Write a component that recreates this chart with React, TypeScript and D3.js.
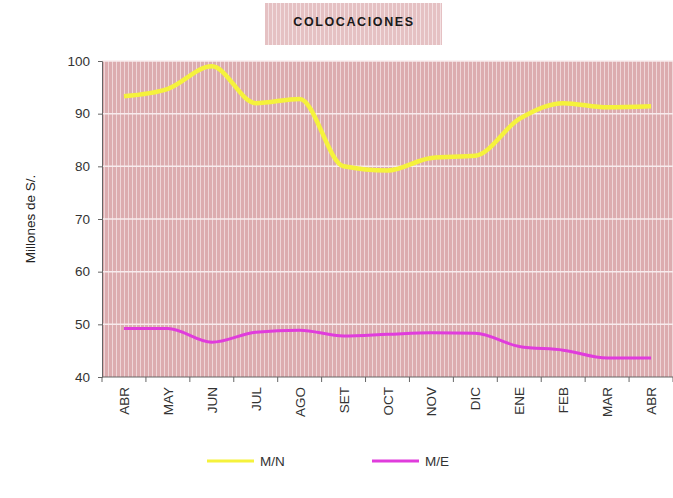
import React, { useEffect, useRef } from 'react'
import * as d3 from 'd3';

const WIDTH = 673;
const HEIGHT = 498;

const months = ['ABR', 'MAY', 'JUN', 'JUL', 'AGO', 'SET', 'OCT', 'NOV', 'DIC', 'ENE', 'FEB', 'MAR', 'ABR'];
const mnValues = [93.3, 94.7, 99.0, 92.0, 92.8, 80.0, 79.2, 81.6, 82.0, 89.0, 92.0, 91.2, 91.4];
const meValues = [49.2, 49.2, 46.6, 48.5, 48.9, 47.8, 48.1, 48.4, 48.3, 45.8, 45.1, 43.6, 43.6];
const yTicks = [40, 50, 60, 70, 80, 90, 100];

const series = [
  { name: 'M/N', values: mnValues, color: '#f5f23c', width: 4.5 },
  { name: 'M/E', values: meValues, color: '#e03cdc', width: 3 },
];

const margin = { top: 61, right: 0, bottom: 121, left: 102 };

const App = () => {
  const svgRef = useRef<SVGSVGElement>(null);

  useEffect(() => {
    const svg = d3.select(svgRef.current);
    svg.selectAll("*").remove();

    const font = "Arial, 'Liberation Sans', sans-serif";

    // striped fill like the old spreadsheet pattern
    const defs = svg.append("defs");
    const pat = defs.append("pattern")
      .attr("id", "stripes")
      .attr("patternUnits", "userSpaceOnUse")
      .attr("width", 4).attr("height", 4);
    pat.append("rect").attr("width", 4).attr("height", 4).attr("fill", "#dcacaf");
    pat.append("rect").attr("x", 0).attr("width", 1).attr("height", 4).attr("fill", "#efd6d8");

    const x = d3.scalePoint<number>()
      .domain(d3.range(months.length))
      .range([margin.left, WIDTH - margin.right])
      .padding(0.5);
    const y = d3.scaleLinear()
      .domain([40, 100])
      .range([HEIGHT - margin.bottom, margin.top]);

    // Title box
    svg.append("rect")
      .attr("x", 265).attr("y", 3).attr("width", 177).attr("height", 42)
      .attr("fill", "url(#stripes)").attr("opacity", 0.75);
    svg.append("text")
      .attr("x", 354).attr("y", 26)
      .attr("text-anchor", "middle")
      .style("font", `900 12.5px ${font}`)
      .style("letter-spacing", "1.6px")
      .attr("fill", "#1a1a1a")
      .text("COLOCACIONES");

    // Plot background
    svg.append("rect")
      .attr("x", margin.left).attr("y", margin.top)
      .attr("width", WIDTH - margin.left - margin.right)
      .attr("height", y(40) - y(100))
      .attr("fill", "url(#stripes)");

    // Horizontal gridlines
    svg.append("g").selectAll("line")
      .data(yTicks.slice(1))
      .join("line")
        .attr("x1", margin.left).attr("x2", WIDTH - margin.right)
        .attr("y1", d => y(d)).attr("y2", d => y(d))
        .attr("stroke", "#f8ecee").attr("stroke-width", 1.5);

    // Y axis
    const yAxis = svg.append("g")
      .attr("transform", `translate(${margin.left},0)`)
      .call(d3.axisLeft(y).tickValues(yTicks).tickSize(4).tickPadding(8));
    yAxis.select(".domain").attr("stroke", "#666");
    yAxis.selectAll(".tick line").attr("stroke", "#666");
    yAxis.selectAll("text").style("font", `13.5px ${font}`).attr("fill", "#333");

    // X axis
    const step = x.step();
    const xAxis = svg.append("g")
      .attr("transform", `translate(0,${y(40)})`);
    xAxis.append("line")
      .attr("x1", margin.left).attr("x2", WIDTH - margin.right)
      .attr("stroke", "#666");
    xAxis.selectAll("line.tk")
      .data(d3.range(months.length + 1))
      .join("line")
        .attr("class", "tk")
        .attr("x1", i => margin.left + i * step).attr("x2", i => margin.left + i * step)
        .attr("y1", 0).attr("y2", 5)
        .attr("stroke", "#666");
    xAxis.selectAll("text")
      .data(months)
      .join("text")
        .attr("transform", (d, i) => `translate(${x(i)! + 5},10) rotate(-90)`)
        .attr("text-anchor", "end")
        .style("font", `13.5px ${font}`)
        .attr("fill", "#333")
        .text(d => d);

    // Y label
    svg.append("text")
      .attr("transform", `translate(35,${(y(40) + y(100)) / 2}) rotate(-90)`)
      .attr("text-anchor", "middle")
      .style("font", `13.5px ${font}`)
      .attr("fill", "#222")
      .text("Millones de S/.");

    // Lines
    const line = d3.line<number>()
      .x((d, i) => x(i)!)
      .y(d => y(d))
      .curve(d3.curveMonotoneX);
    svg.append("g").selectAll("path")
      .data(series)
      .join("path")
        .attr("d", d => line(d.values))
        .attr("fill", "none")
        .attr("stroke", d => d.color)
        .attr("stroke-width", d => d.width)
        .attr("stroke-linejoin", "round");

    // Legend
    const legend = svg.append("g").selectAll("g")
      .data(series)
      .join("g")
        .attr("transform", (d, i) => `translate(${207 + i * 165},461)`);
    legend.append("line")
      .attr("x1", 0).attr("x2", 47)
      .attr("stroke", d => d.color).attr("stroke-width", 3);
    legend.append("text")
      .attr("x", 53).attr("y", 5)
      .style("font", `13.5px ${font}`)
      .attr("fill", "#333")
      .text(d => d.name);
  }, []);

  return (
    <svg width={WIDTH} height={HEIGHT} ref={svgRef}
      style={{ position: 'absolute', left: 0, top: 0, background: '#fff' }} />
  );
}

export default App;
